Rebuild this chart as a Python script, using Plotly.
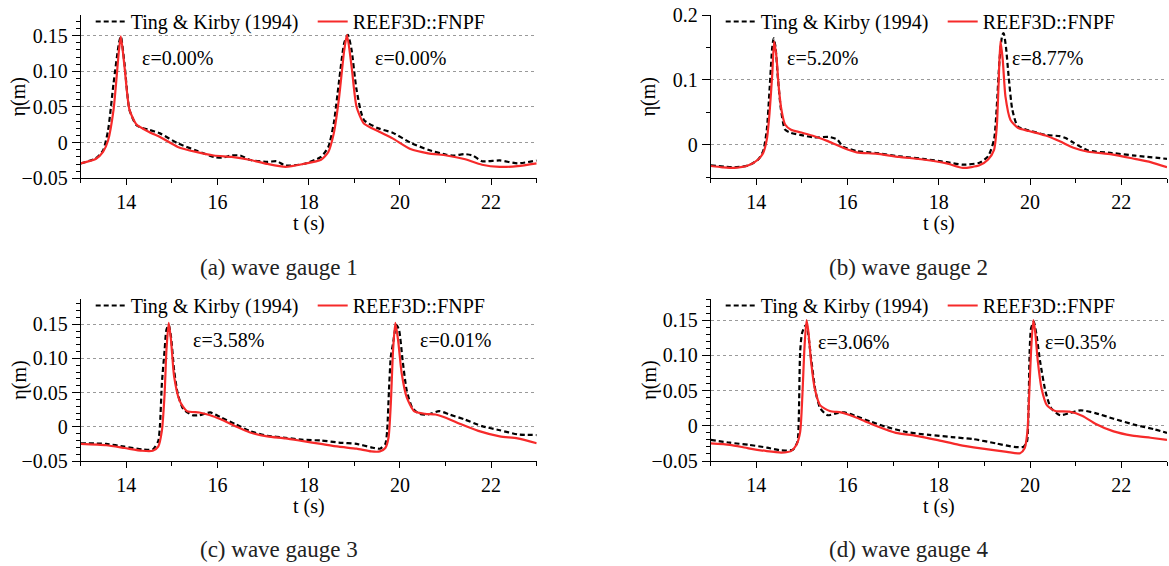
import plotly.graph_objects as go

# ---- wave gauge 1 ----
t_g1_exp = [13.00, 13.33, 13.49, 13.60, 13.72, 13.84, 13.88, 13.96, 14.07, 14.23, 14.50, 14.74, 15.13, 15.53, 15.92,
            16.10, 16.31, 16.50, 16.70, 17.10, 17.30, 17.49, 17.88, 18.27, 18.43, 18.55, 18.66, 18.78, 18.86, 18.94,
            19.05, 19.21, 19.53, 19.84, 20.23, 20.62, 21.02, 21.20, 21.41, 21.60, 21.80, 22.19, 22.58, 23.00]
eta_g1_exp = [-0.029, -0.022, -0.011, 0.017, 0.083, 0.140, 0.149, 0.111, 0.046, 0.024, 0.018, 0.013, -0.001, -0.011, -0.020,
              -0.021, -0.018, -0.018, -0.024, -0.027, -0.026, -0.032, -0.030, -0.020, -0.006, 0.027, 0.083, 0.140, 0.151, 0.130,
              0.074, 0.032, 0.020, 0.014, 0.000, -0.010, -0.017, -0.018, -0.016, -0.018, -0.026, -0.025, -0.029, -0.025]
t_g1_num = [13.00, 13.33, 13.49, 13.60, 13.72, 13.84, 13.88, 13.96, 14.07, 14.23, 14.50, 14.74, 15.13, 15.53, 15.92,
            16.31, 16.70, 17.10, 17.49, 17.88, 18.27, 18.43, 18.55, 18.66, 18.78, 18.84, 18.94, 19.05, 19.21, 19.53,
            19.84, 20.23, 20.62, 21.02, 21.41, 21.80, 22.19, 22.58, 23.00]
eta_g1_num = [-0.029, -0.023, -0.013, 0.003, 0.046, 0.130, 0.149, 0.107, 0.046, 0.025, 0.015, 0.008, -0.006, -0.013, -0.018,
              -0.020, -0.024, -0.030, -0.034, -0.030, -0.024, -0.013, 0.013, 0.060, 0.130, 0.151, 0.107, 0.050, 0.027, 0.016,
              0.006, -0.009, -0.015, -0.018, -0.023, -0.031, -0.034, -0.033, -0.029]

# ---- wave gauge 2 ----
t_g2_exp = [13.00, 13.52, 13.83, 14.04, 14.15, 14.23, 14.29, 14.35, 14.38, 14.42, 14.47, 14.54, 14.63, 14.76, 14.96,
            15.27, 15.58, 15.77, 15.90, 16.20, 16.62, 17.13, 17.65, 18.17, 18.53, 18.89, 19.08, 19.21, 19.27, 19.33,
            19.39, 19.42, 19.47, 19.53, 19.61, 19.73, 19.97, 20.34, 20.65, 20.78, 20.95, 21.27, 21.79, 22.30, 23.00]
eta_g2_exp = [-0.032, -0.035, -0.032, -0.023, -0.010, 0.023, 0.085, 0.151, 0.164, 0.151, 0.105, 0.054, 0.023, 0.018, 0.015,
              0.011, 0.012, 0.008, -0.003, -0.010, -0.013, -0.018, -0.022, -0.027, -0.031, -0.028, -0.018, 0.008, 0.059, 0.131,
              0.169, 0.172, 0.151, 0.105, 0.054, 0.028, 0.022, 0.015, 0.013, 0.010, 0.003, -0.009, -0.013, -0.017, -0.022]
t_g2_num = [13.00, 13.26, 13.52, 13.83, 14.04, 14.15, 14.23, 14.29, 14.35, 14.39, 14.44, 14.49, 14.55, 14.63, 14.76,
            14.96, 15.27, 15.58, 15.90, 16.20, 16.62, 17.13, 17.65, 18.17, 18.53, 18.89, 19.08, 19.21, 19.27, 19.31,
            19.35, 19.40, 19.46, 19.57, 19.73, 19.97, 20.34, 20.65, 20.95, 21.27, 21.79, 22.30, 22.64, 23.00]
eta_g2_num = [-0.033, -0.035, -0.036, -0.032, -0.023, -0.013, 0.008, 0.049, 0.110, 0.159, 0.136, 0.090, 0.054, 0.031, 0.023,
              0.019, 0.013, 0.005, -0.005, -0.012, -0.014, -0.019, -0.023, -0.029, -0.036, -0.032, -0.023, -0.008, 0.028, 0.095,
              0.160, 0.131, 0.074, 0.038, 0.026, 0.021, 0.014, 0.005, -0.005, -0.011, -0.015, -0.022, -0.027, -0.035]

# ---- wave gauge 3 ----
t_g3_exp = [13.00, 13.56, 13.96, 14.35, 14.58, 14.70, 14.74, 14.78, 14.84, 14.88, 14.93, 14.98, 15.05, 15.13, 15.25,
            15.45, 15.60, 15.84, 16.07, 16.39, 16.70, 17.09, 17.49, 17.88, 18.27, 18.66, 19.05, 19.37, 19.56, 19.68,
            19.72, 19.76, 19.80, 19.85, 19.92, 19.98, 20.06, 20.15, 20.27, 20.43, 20.62, 20.86, 21.09, 21.41, 21.80,
            22.19, 22.58, 23.00]
eta_g3_exp = [-0.024, -0.025, -0.029, -0.033, -0.033, -0.021, 0.004, 0.063, 0.112, 0.142, 0.149, 0.132, 0.082, 0.048, 0.026,
              0.017, 0.017, 0.021, 0.014, 0.004, -0.006, -0.013, -0.016, -0.019, -0.020, -0.023, -0.025, -0.030, -0.032, -0.025,
              -0.006, 0.053, 0.102, 0.122, 0.149, 0.142, 0.097, 0.053, 0.028, 0.019, 0.018, 0.023, 0.018, 0.011, 0.001,
              -0.005, -0.011, -0.012]
t_g3_num = [13.00, 13.56, 13.96, 14.35, 14.58, 14.70, 14.78, 14.84, 14.88, 14.93, 14.98, 15.05, 15.17, 15.33, 15.60,
            15.84, 16.07, 16.39, 16.70, 17.09, 17.49, 17.88, 18.27, 18.66, 19.05, 19.37, 19.56, 19.68, 19.75, 19.80,
            19.85, 19.90, 19.96, 20.04, 20.15, 20.31, 20.55, 20.78, 21.02, 21.33, 21.72, 22.19, 22.58, 23.00]
eta_g3_num = [-0.025, -0.027, -0.031, -0.035, -0.035, -0.029, -0.006, 0.048, 0.112, 0.152, 0.127, 0.073, 0.038, 0.023, 0.021,
              0.017, 0.011, 0.001, -0.008, -0.014, -0.017, -0.021, -0.025, -0.029, -0.032, -0.036, -0.036, -0.031, -0.016, 0.033,
              0.112, 0.152, 0.127, 0.078, 0.043, 0.023, 0.019, 0.018, 0.013, 0.004, -0.006, -0.014, -0.017, -0.024]

# ---- wave gauge 4 ----
t_g4_exp = [13.00, 13.42, 13.83, 14.23, 14.55, 14.80, 14.90, 14.93, 14.96, 15.00, 15.06, 15.10, 15.14, 15.20, 15.30,
            15.40, 15.56, 15.77, 15.93, 16.17, 16.50, 16.82, 17.30, 17.79, 18.28, 18.76, 19.25, 19.65, 19.85, 19.93,
            19.96, 19.99, 20.02, 20.08, 20.14, 20.22, 20.34, 20.46, 20.66, 20.86, 21.11, 21.43, 21.83, 22.32, 22.72, 23.00]
eta_g4_exp = [-0.020, -0.024, -0.027, -0.031, -0.035, -0.034, -0.023, 0.010, 0.105, 0.131, 0.141, 0.143, 0.129, 0.096, 0.048,
              0.025, 0.015, 0.018, 0.019, 0.014, 0.006, -0.001, -0.009, -0.013, -0.016, -0.019, -0.025, -0.030, -0.030, -0.023,
              0.010, 0.105, 0.138, 0.148, 0.129, 0.091, 0.048, 0.025, 0.015, 0.018, 0.022, 0.018, 0.010, 0.001, -0.005, -0.010]
t_g4_num = [13.00, 13.42, 13.83, 14.23, 14.55, 14.76, 14.88, 14.96, 15.01, 15.05, 15.10, 15.14, 15.20, 15.28, 15.40,
            15.61, 15.85, 16.01, 16.33, 16.66, 17.06, 17.47, 17.95, 18.44, 18.92, 19.49, 19.78, 19.88, 19.94, 19.98,
            20.02, 20.07, 20.11, 20.17, 20.25, 20.37, 20.55, 20.86, 21.15, 21.43, 21.83, 22.24, 22.64, 23.00]
eta_g4_num = [-0.025, -0.027, -0.032, -0.036, -0.038, -0.036, -0.027, -0.009, 0.044, 0.105, 0.150, 0.134, 0.091, 0.053, 0.029,
              0.021, 0.019, 0.016, 0.008, -0.001, -0.010, -0.014, -0.020, -0.027, -0.032, -0.037, -0.039, -0.032, -0.009, 0.044,
              0.105, 0.150, 0.134, 0.091, 0.053, 0.029, 0.021, 0.020, 0.014, 0.003, -0.008, -0.014, -0.017, -0.020]

# error labels: (t, eta, text) per gauge
err_labels = [
    [(15.12, 0.119, "ε=0.00%"), (20.23, 0.119, "ε=0.00%")],
    [(15.44, 0.134, "ε=5.20%"), (20.39, 0.134, "ε=8.77%")],
    [(16.25, 0.127, "ε=3.58%"), (21.21, 0.127, "ε=0.01%")],
    [(16.14, 0.119, "ε=3.06%"), (21.11, 0.119, "ε=0.35%")],
]
captions = ["(a) wave gauge 1", "(b) wave gauge 2", "(c) wave gauge 3", "(d) wave gauge 4"]

# y-axis ranges and ticks per gauge
y_ranges = [[-0.05, 0.179], [-0.052, 0.2], [-0.05, 0.187], [-0.05, 0.18]]
y_tickvals = [[-0.05, 0, 0.05, 0.10, 0.15], [0, 0.1, 0.2],
              [-0.05, 0, 0.05, 0.10, 0.15], [-0.05, 0, 0.05, 0.10, 0.15]]
y_ticktext = [["\u22120.05", "0", "0.05", "0.10", "0.15"], ["0", "0.1", "0.2"],
              ["\u22120.05", "0", "0.05", "0.10", "0.15"], ["\u22120.05", "0", "0.05", "0.10", "0.15"]]
y_minor = [0.01, 0.05, 0.01, 0.01]
x_ticks = [14, 16, 18, 20, 22]

exp_series = [(t_g1_exp, eta_g1_exp), (t_g2_exp, eta_g2_exp), (t_g3_exp, eta_g3_exp), (t_g4_exp, eta_g4_exp)]
num_series = [(t_g1_num, eta_g1_num), (t_g2_num, eta_g2_num), (t_g3_num, eta_g3_num), (t_g4_num, eta_g4_num)]

W, H = 1169, 566
SERIF = "Liberation Serif"
RED = "#f62a2a"
FS = 20

# panel boxes in pixels: (left, right, top, bottom)
boxes = [(80.7, 536.7, 15.0, 178.3), (710.7, 1167.0, 15.0, 178.3),
         (80.7, 536.7, 299.0, 461.0), (710.7, 1167.0, 299.0, 461.0)]

def px(x):
    return x / W

def py(y):
    return 1 - y / H

fig = go.Figure()
layout = dict(
    width=W, height=H,
    margin=dict(l=0, r=0, t=0, b=0, autoexpand=False),
    paper_bgcolor="white", plot_bgcolor="white",
    font=dict(family=SERIF, size=FS, color="black"),
    annotations=[],
)

for i in range(4):
    k = "" if i == 0 else str(i + 1)
    xa, ya = "x" + k, "y" + k
    leg = "legend" + k
    left, right, top, bottom = boxes[i]

    fig.add_trace(go.Scatter(
        x=exp_series[i][0], y=exp_series[i][1], xaxis=xa, yaxis=ya,
        mode="lines", name="Ting & Kirby (1994)", legend=leg,
        line=dict(color="black", width=2.2, dash="5px,3px", shape="spline", smoothing=0.6),
    ))
    fig.add_trace(go.Scatter(
        x=num_series[i][0], y=num_series[i][1], xaxis=xa, yaxis=ya,
        mode="lines", name="REEF3D::FNPF", legend=leg,
        line=dict(color=RED, width=2.2, shape="spline", smoothing=0.6),
    ))

    layout["xaxis" + k] = dict(
        domain=[px(left), px(right)], anchor=ya, range=[13, 23],
        showline=True, linecolor="black", linewidth=1, mirror=False,
        ticks="outside", ticklen=6, tickcolor="black", tickwidth=1,
        tickvals=x_ticks, ticktext=[str(v) for v in x_ticks],
        minor=dict(dtick=1, tick0=13, ticks="outside", ticklen=4, tickcolor="black", showgrid=False),
        showgrid=False, zeroline=False, automargin=False,
        tickfont=dict(family=SERIF, size=FS, color="black"),
    )
    layout["yaxis" + k] = dict(
        domain=[py(bottom), py(top)], anchor=xa, range=y_ranges[i],
        showline=True, linecolor="black", linewidth=1, mirror=False,
        ticks="outside", ticklen=8, tickcolor="black", tickwidth=1,
        tickvals=y_tickvals[i], ticktext=y_ticktext[i],
        minor=dict(dtick=y_minor[i], tick0=0, ticks="outside", ticklen=4, tickcolor="black", showgrid=False),
        showgrid=True, gridcolor="#9a9a9a", griddash="dot", gridwidth=1,
        zeroline=False, automargin=False,
        tickfont=dict(family=SERIF, size=FS, color="black"),
    )
    layout[leg] = dict(
        x=px(left + 10), y=py(max(top - 13, 0)), xanchor="left", yanchor="top",
        orientation="h", bgcolor="rgba(0,0,0,0)", borderwidth=0,
        font=dict(family=SERIF, size=FS, color="black"),
        entrywidth=177, itemwidth=30,
    )

    # epsilon labels
    for (tx, ey, txt) in err_labels[i]:
        layout["annotations"].append(dict(
            x=tx, y=ey, xref=xa, yref=ya, xanchor="center", yanchor="middle",
            text=txt, showarrow=False,
            font=dict(family=SERIF, size=FS, color="black"),
        ))
    # axis titles
    layout["annotations"].append(dict(
        x=px((left + right) / 2), y=py(bottom + 45.5), xref="paper", yref="paper",
        xanchor="center", yanchor="middle",
        text="t (s)", showarrow=False, font=dict(family=SERIF, size=FS, color="black"),
    ))
    layout["annotations"].append(dict(
        x=px(left - 62), y=py((top + bottom) / 2), xref="paper", yref="paper",
        xanchor="center", yanchor="middle",
        text="η(m)", textangle=-90, showarrow=False,
        font=dict(family=SERIF, size=FS, color="black"),
    ))
    # sub-figure caption
    layout["annotations"].append(dict(
        x=px((left + right) / 2 - 30), y=py(bottom + 88.7), xref="paper", yref="paper",
        xanchor="center", yanchor="middle",
        text=captions[i], showarrow=False,
        font=dict(family=SERIF, size=23, color="#222222"),
    ))

fig.update_layout(**layout)
fig.write_html("out.html")
